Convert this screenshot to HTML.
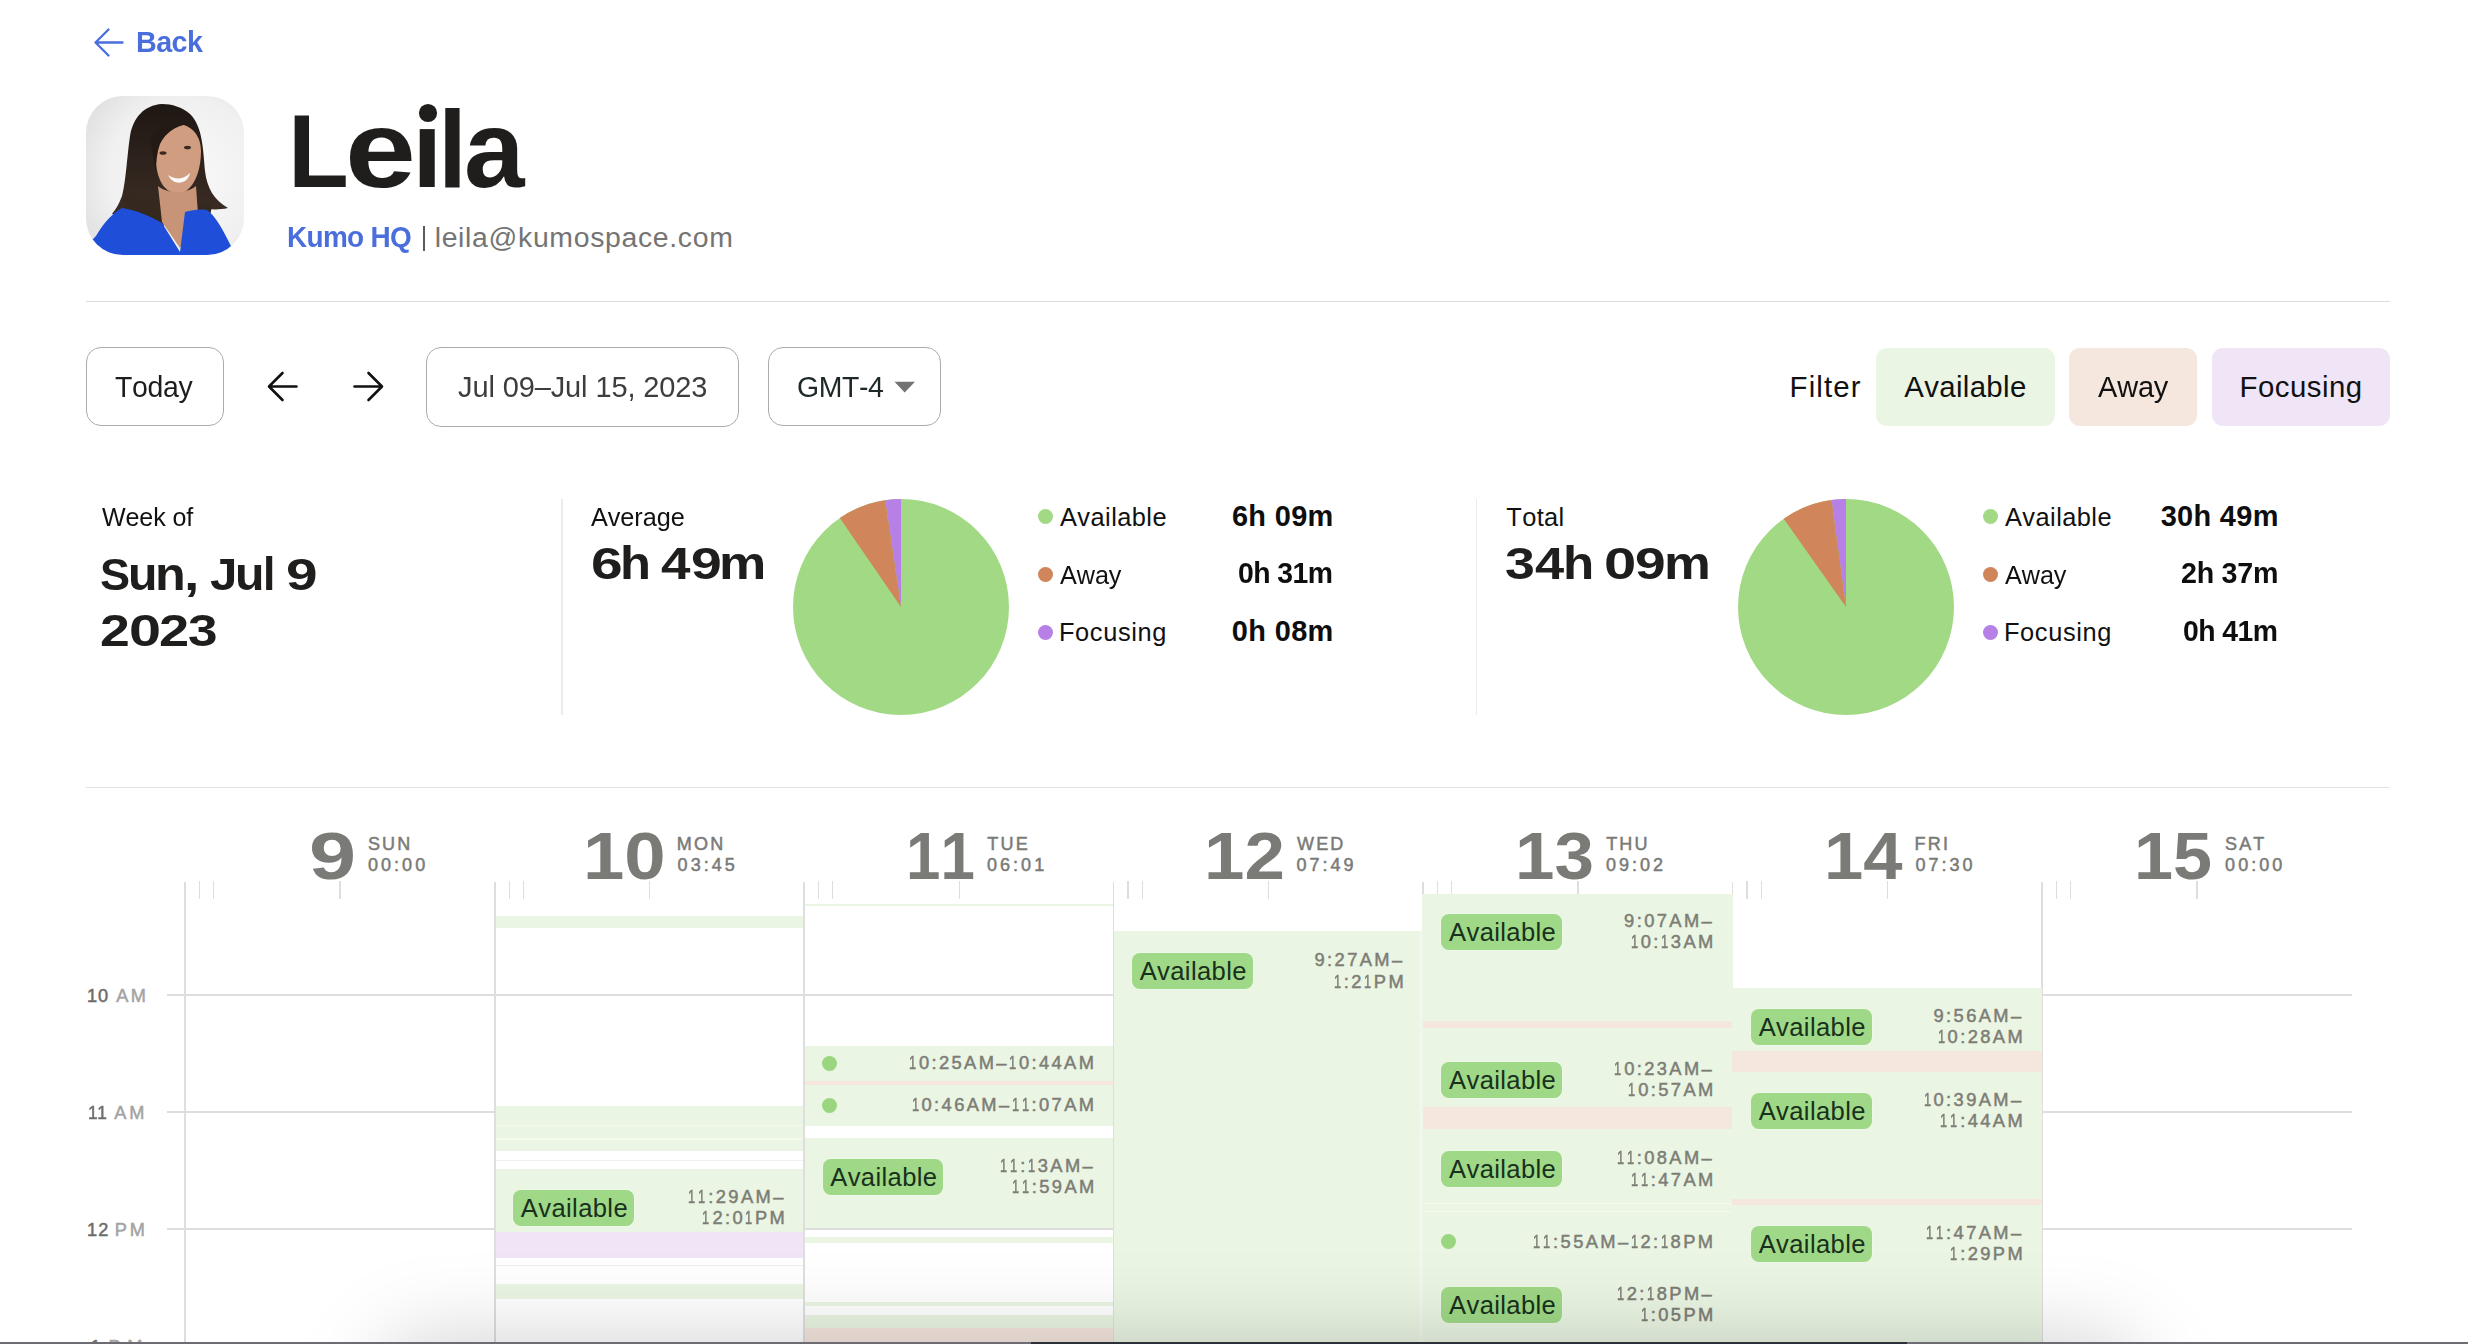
<!DOCTYPE html>
<html><head><meta charset="utf-8"><style>
html,body{margin:0;padding:0;background:#fff;}
body{width:2468px;height:1344px;position:relative;overflow:hidden;font-family:"Liberation Sans",sans-serif;font-kerning:none;}
.t{position:absolute;line-height:0;white-space:nowrap;}
.r{position:absolute;}
.one{display:inline-block;letter-spacing:0;transform:scaleX(0.70);transform-origin:0 0;}
</style></head><body>
<svg class="r" style="left:0;top:0" width="300" height="80"><path d="M122.5 42.5H96 M108.5 29.5L95.5 42.5L108.5 55.5" stroke="#4a6edb" stroke-width="2.35" fill="none" stroke-linecap="round" stroke-linejoin="round"/></svg>
<div class="t" style="left:136.08px;top:42.47px;font-size:30.09px;font-weight:700;color:#4a6edb;letter-spacing:-0.577px;transform:scaleX(0.9529);transform-origin:0 0;">Back</div>
<svg class="r" style="left:86px;top:96px" width="158" height="159" viewBox="0 0 158 159">
<defs><clipPath id="av"><rect x="0" y="0" width="158" height="159" rx="37" ry="37"/></clipPath>
<radialGradient id="bgav" cx="0.62" cy="0.5" r="0.75"><stop offset="0" stop-color="#f9f9f9"/><stop offset="0.65" stop-color="#f0f0f0"/><stop offset="1" stop-color="#dedede"/></radialGradient>
<linearGradient id="hair" x1="0" y1="0" x2="0" y2="1"><stop offset="0" stop-color="#1f1713"/><stop offset="1" stop-color="#3b2d25"/></linearGradient></defs>
<g clip-path="url(#av)">
<rect width="158" height="159" fill="url(#bgav)"/>
<path d="M76 8 C58 9 47 22 44 40 C41 60 40 85 36 100 C33 108 30 113 26 118 C40 121 55 119 66 115 L74 108 L108 108 C116 113 128 115 142 112 C128 104 121 92 119 75 C117 50 116 30 104 18 C96 11 86 8 76 8 Z" fill="url(#hair)"/>
<path d="M70 45 C72 34 82 27 92 28 C106 29 115 40 115 55 C115 72 110 88 100 95 C92 100 82 97 76 88 C70 78 68 60 70 45 Z" fill="#d09d80"/>
<path d="M64 44 C70 28 88 22 102 28 C90 30 80 36 74 48 C71 56 70 66 70 76 Z" fill="#241a15"/>
<ellipse cx="77" cy="57" rx="3.5" ry="1.8" fill="#3a2a22"/>
<ellipse cx="101.5" cy="51.5" rx="3.5" ry="1.8" fill="#3a2a22"/>
<path d="M82 79 C89 84 97 84 104 77 C102 88 88 91 82 79 Z" fill="#fbfbfb"/>
<path d="M40 100 L76 104 L78 132 L36 122 Z" fill="#35281f"/>
<path d="M104 102 L126 110 L124 120 L100 122 Z" fill="#35281f"/>
<path d="M72 90 C82 98 100 98 110 90 L112 118 L94 152 L76 126 Z" fill="#c79477"/>
<path d="M0 159 L0 152 C4 146 8 142 10 140 C18 126 28 116 36 112 C50 114 64 120 76 127 L94 156 L99 116 C106 114 114 113 121 114 C130 120 138 136 146 152 L148 159 Z" fill="#1f4fd8"/>
</g></svg>

<div class="t" style="left:288.14px;top:150.57px;font-size:104.22px;font-weight:700;color:#1f1e1d;transform:scale(0.9555,1.0000);transform-origin:0 36.13px;">L</div>
<div class="t" style="left:345.02px;top:148.94px;font-size:108.90px;font-weight:700;color:#1f1e1d;transform:scale(1.1713,1.0000);transform-origin:0 37.76px;">e</div>
<div class="t" style="left:412.26px;top:148.94px;font-size:108.90px;font-weight:700;color:#1f1e1d;transform:scale(1.0039,1.0000);transform-origin:0 37.76px;">ı</div>
<div class="r" style="left:418.6px;top:104.3px;width:18.6px;height:17.8px;border-radius:50%;background:#1f1e1d"></div>
<div class="t" style="left:438.12px;top:148.94px;font-size:108.90px;font-weight:700;color:#1f1e1d;transform:scale(0.9570,1.0000);transform-origin:0 37.76px;">l</div>
<div class="t" style="left:463.81px;top:148.94px;font-size:108.90px;font-weight:700;color:#1f1e1d;transform:scale(0.9989,1.0000);transform-origin:0 37.76px;">a</div>
<div class="t" style="left:287.43px;top:236.97px;font-size:29.80px;font-weight:700;color:#4a6edb;letter-spacing:-0.726px;transform:scaleX(0.9377);transform-origin:0 0;">Kumo HQ</div>
<div class="r" style="left:422.80px;top:225.50px;width:1.80px;height:25.50px;background:#5a5a5a;"></div>
<div class="t" style="left:434.69px;top:237.45px;font-size:28.40px;font-weight:400;color:#747474;letter-spacing:0.670px;">leila@kumospace.com</div>
<div class="r" style="left:86.00px;top:300.50px;width:2304.00px;height:1.50px;background:#dcdcdc;"></div>
<div class="r" style="left:86.00px;top:347.00px;width:138.00px;height:79.00px;background:#fff;border:1.6px solid #ababab;border-radius:15px;box-sizing:border-box;"></div>
<div class="t" style="left:115.36px;top:386.61px;font-size:29.40px;font-weight:400;color:#1d1d1d;letter-spacing:-0.349px;transform:scaleX(0.9674);transform-origin:0 0;">Today</div>
<svg class="r" style="left:0;top:340px" width="420" height="90"><path d="M296.5 46.5H269.5 M282.5 33L269 46.5L282.5 60" stroke="#111" stroke-width="2.6" fill="none" stroke-linecap="round" stroke-linejoin="round"/><path d="M354.5 46.5H381.5 M368.5 33L382 46.5L368.5 60" stroke="#111" stroke-width="2.6" fill="none" stroke-linecap="round" stroke-linejoin="round"/></svg>
<div class="r" style="left:426.00px;top:346.50px;width:313.00px;height:80.00px;background:#fff;border:1.6px solid #ababab;border-radius:15px;box-sizing:border-box;"></div>
<div class="t" style="left:457.75px;top:387.31px;font-size:29.40px;font-weight:400;color:#3d3d3d;letter-spacing:-0.106px;transform:scaleX(0.9859);transform-origin:0 0;">Jul 09–Jul 15, 2023</div>
<div class="r" style="left:768.00px;top:347.00px;width:173.00px;height:79.00px;background:#fff;border:1.6px solid #ababab;border-radius:15px;box-sizing:border-box;"></div>
<div class="t" style="left:796.57px;top:387.11px;font-size:29.40px;font-weight:400;color:#1e2828;letter-spacing:-0.387px;transform:scaleX(0.9672);transform-origin:0 0;">GMT-4</div>
<svg class="r" style="left:894px;top:381px" width="22" height="12"><path d="M0.5 0.8H21L10.7 11.5Z" fill="#737373"/></svg>
<div class="t" style="left:1789.59px;top:387.11px;font-size:29.40px;font-weight:400;color:#111;letter-spacing:1.114px;">Filter</div>
<div class="r" style="left:1875.50px;top:347.50px;width:179.00px;height:78.00px;background:#eaf5e3;border-radius:11px;"></div>
<div class="t" style="left:1904.24px;top:387.11px;font-size:29.40px;font-weight:400;color:#111;letter-spacing:0.344px;">Available</div>
<div class="r" style="left:2069.00px;top:347.50px;width:128.00px;height:78.00px;background:#f5e6de;border-radius:11px;"></div>
<div class="t" style="left:2097.74px;top:387.11px;font-size:29.40px;font-weight:400;color:#111;letter-spacing:-0.184px;transform:scaleX(0.9856);transform-origin:0 0;">Away</div>
<div class="r" style="left:2212.00px;top:347.50px;width:178.00px;height:78.00px;background:#efe5f7;border-radius:11px;"></div>
<div class="t" style="left:2239.59px;top:387.11px;font-size:29.40px;font-weight:400;color:#111;letter-spacing:0.473px;">Focusing</div>
<div class="t" style="left:101.69px;top:517.09px;font-size:25.40px;font-weight:400;color:#111;letter-spacing:-0.110px;transform:scaleX(0.9867);transform-origin:0 0;">Week of</div>
<div class="t" style="left:99.80px;top:574.53px;font-size:45.20px;font-weight:700;color:#1f1e1d;transform:scale(0.9970,1.0000);transform-origin:0 15.67px;">S</div>
<div class="t" style="left:127.91px;top:573.91px;font-size:47.00px;font-weight:700;color:#1f1e1d;transform:scale(1.0266,1.0000);transform-origin:0 16.29px;">u</div>
<div class="t" style="left:155.48px;top:573.91px;font-size:47.00px;font-weight:700;color:#1f1e1d;transform:scale(1.0706,1.0000);transform-origin:0 16.29px;">n</div>
<div class="t" style="left:184.45px;top:573.91px;font-size:47.00px;font-weight:700;color:#1f1e1d;transform:scale(1.1749,1.0000);transform-origin:0 16.29px;">,</div>
<div class="t" style="left:209.85px;top:574.53px;font-size:45.20px;font-weight:700;color:#1f1e1d;transform:scale(1.0906,1.0000);transform-origin:0 15.67px;">J</div>
<div class="t" style="left:235.11px;top:573.91px;font-size:47.00px;font-weight:700;color:#1f1e1d;transform:scale(1.0266,1.0000);transform-origin:0 16.29px;">u</div>
<div class="t" style="left:262.90px;top:573.91px;font-size:47.00px;font-weight:700;color:#1f1e1d;transform:scale(0.9459,1.0000);transform-origin:0 16.29px;">l</div>
<div class="t" style="left:285.93px;top:574.81px;font-size:44.40px;font-weight:700;color:#1f1e1d;transform:scale(1.2787,1.0000);transform-origin:0 15.39px;">9</div>
<div class="t" style="left:100.24px;top:631.41px;font-size:44.40px;font-weight:700;color:#1f1e1d;transform:scale(1.2070,1.0000);transform-origin:0 15.39px;">2</div>
<div class="t" style="left:128.82px;top:631.41px;font-size:44.40px;font-weight:700;color:#1f1e1d;transform:scale(1.2976,1.0000);transform-origin:0 15.39px;">0</div>
<div class="t" style="left:158.72px;top:631.41px;font-size:44.40px;font-weight:700;color:#1f1e1d;transform:scale(1.2210,1.0000);transform-origin:0 15.39px;">2</div>
<div class="t" style="left:188.08px;top:631.41px;font-size:44.40px;font-weight:700;color:#1f1e1d;transform:scale(1.1962,1.0000);transform-origin:0 15.39px;">3</div>
<div class="r" style="left:561.00px;top:499.00px;width:1.50px;height:216.00px;background:#ebebeb;"></div>
<div class="t" style="left:591.25px;top:517.09px;font-size:25.40px;font-weight:400;color:#111;letter-spacing:-0.048px;transform:scaleX(0.9942);transform-origin:0 0;">Average</div>
<div class="t" style="left:590.52px;top:563.81px;font-size:44.40px;font-weight:700;color:#1f1e1d;transform:scale(1.2813,1.0000);transform-origin:0 15.39px;">6</div>
<div class="t" style="left:620.26px;top:562.91px;font-size:47.00px;font-weight:700;color:#1f1e1d;transform:scale(1.0794,1.0000);transform-origin:0 16.29px;">h</div>
<div class="t" style="left:661.00px;top:563.81px;font-size:44.40px;font-weight:700;color:#1f1e1d;transform:scale(1.1941,1.0000);transform-origin:0 15.39px;">4</div>
<div class="t" style="left:690.68px;top:563.81px;font-size:44.40px;font-weight:700;color:#1f1e1d;transform:scale(1.2461,1.0000);transform-origin:0 15.39px;">9</div>
<div class="t" style="left:719.09px;top:562.91px;font-size:47.00px;font-weight:700;color:#1f1e1d;transform:scale(1.1320,1.0000);transform-origin:0 16.29px;">m</div>
<svg class="r" style="left:791px;top:497px" width="220" height="220" viewBox="791 497 220 220"><circle cx="901" cy="607" r="108" fill="#a2d984"/><path d="M901 607 L901.00 499.00 A108 108 0 0 0 885.22 500.16 Z" fill="#b680e7"/><path d="M901 607 L885.22 500.16 A108 108 0 0 0 839.83 517.99 Z" fill="#d0855a"/></svg>
<div class="r" style="left:1038px;top:509.30px;width:15px;height:15px;border-radius:50%;background:#a2d984"></div>
<div class="t" style="left:1059.95px;top:517.09px;font-size:25.40px;font-weight:400;color:#111;letter-spacing:0.450px;">Available</div>
<div class="t" style="left:1231.94px;top:515.87px;font-size:28.94px;font-weight:700;color:#0e0e0e;letter-spacing:0.324px;">6h 09m</div>
<div class="r" style="left:1038px;top:566.90px;width:15px;height:15px;border-radius:50%;background:#d0855a"></div>
<div class="t" style="left:1059.95px;top:574.69px;font-size:25.40px;font-weight:400;color:#111;letter-spacing:-0.071px;transform:scaleX(0.9936);transform-origin:0 0;">Away</div>
<div class="t" style="left:1238.28px;top:573.47px;font-size:28.94px;font-weight:700;color:#0e0e0e;letter-spacing:-0.563px;transform:scaleX(0.9800);transform-origin:0 0;">0h 31m</div>
<div class="r" style="left:1038px;top:624.50px;width:15px;height:15px;border-radius:50%;background:#b680e7"></div>
<div class="t" style="left:1058.92px;top:632.29px;font-size:25.40px;font-weight:400;color:#111;letter-spacing:0.651px;">Focusing</div>
<div class="t" style="left:1231.86px;top:631.07px;font-size:28.94px;font-weight:700;color:#0e0e0e;letter-spacing:0.341px;">0h 08m</div>
<div class="r" style="left:1475.50px;top:499.00px;width:1.50px;height:216.00px;background:#ebebeb;"></div>
<div class="t" style="left:1506.23px;top:517.09px;font-size:25.40px;font-weight:400;color:#111;letter-spacing:0.400px;">Total</div>
<div class="t" style="left:1505.47px;top:563.81px;font-size:44.40px;font-weight:700;color:#1f1e1d;transform:scale(1.2098,1.0000);transform-origin:0 15.39px;">3</div>
<div class="t" style="left:1534.81px;top:563.81px;font-size:44.40px;font-weight:700;color:#1f1e1d;transform:scale(1.1815,1.0000);transform-origin:0 15.39px;">4</div>
<div class="t" style="left:1562.83px;top:562.91px;font-size:47.00px;font-weight:700;color:#1f1e1d;transform:scale(1.0883,1.0000);transform-origin:0 16.29px;">h</div>
<div class="t" style="left:1603.80px;top:563.81px;font-size:44.40px;font-weight:700;color:#1f1e1d;transform:scale(1.3071,1.0000);transform-origin:0 15.39px;">0</div>
<div class="t" style="left:1635.39px;top:563.81px;font-size:44.40px;font-weight:700;color:#1f1e1d;transform:scale(1.2415,1.0000);transform-origin:0 15.39px;">9</div>
<div class="t" style="left:1664.13px;top:562.91px;font-size:47.00px;font-weight:700;color:#1f1e1d;transform:scale(1.1208,1.0000);transform-origin:0 16.29px;">m</div>
<svg class="r" style="left:1736px;top:497px" width="220" height="220" viewBox="1736 497 220 220"><circle cx="1846" cy="607" r="108" fill="#a2d984"/><path d="M1846 607 L1846.00 499.00 A108 108 0 0 0 1831.53 499.97 Z" fill="#b680e7"/><path d="M1846 607 L1831.53 499.97 A108 108 0 0 0 1783.75 518.75 Z" fill="#d0855a"/></svg>
<div class="r" style="left:1983px;top:509.30px;width:15px;height:15px;border-radius:50%;background:#a2d984"></div>
<div class="t" style="left:2004.95px;top:517.09px;font-size:25.40px;font-weight:400;color:#111;letter-spacing:0.450px;">Available</div>
<div class="t" style="left:2160.64px;top:515.87px;font-size:28.94px;font-weight:700;color:#0e0e0e;letter-spacing:0.321px;">30h 49m</div>
<div class="r" style="left:1983px;top:566.90px;width:15px;height:15px;border-radius:50%;background:#d0855a"></div>
<div class="t" style="left:2004.95px;top:574.69px;font-size:25.40px;font-weight:400;color:#111;letter-spacing:-0.071px;transform:scaleX(0.9936);transform-origin:0 0;">Away</div>
<div class="t" style="left:2181.01px;top:573.47px;font-size:28.94px;font-weight:700;color:#0e0e0e;letter-spacing:-0.280px;transform:scaleX(0.9902);transform-origin:0 0;">2h 37m</div>
<div class="r" style="left:1983px;top:624.50px;width:15px;height:15px;border-radius:50%;background:#b680e7"></div>
<div class="t" style="left:2003.92px;top:632.29px;font-size:25.40px;font-weight:400;color:#111;letter-spacing:0.651px;">Focusing</div>
<div class="t" style="left:2183.48px;top:631.07px;font-size:28.94px;font-weight:700;color:#0e0e0e;letter-spacing:-0.575px;transform:scaleX(0.9796);transform-origin:0 0;">0h 41m</div>
<div class="r" style="left:86.00px;top:786.50px;width:2304.00px;height:1.50px;background:#e2e2e2;"></div>
<div class="r" style="left:167.00px;top:994.25px;width:2185.00px;height:1.50px;background:#dedede;"></div>
<div class="r" style="left:167.00px;top:1111.25px;width:2185.00px;height:1.50px;background:#dedede;"></div>
<div class="r" style="left:167.00px;top:1228.25px;width:2185.00px;height:1.50px;background:#dedede;"></div>
<div class="t" style="left:86.92px;top:996.00px;font-size:18.17px;font-weight:400;-webkit-text-stroke:0.5px currentColor;color:#6c6c6c;letter-spacing:1.085px;">10</div>
<div class="t" style="left:116.26px;top:996.00px;font-size:18.17px;font-weight:400;-webkit-text-stroke:0.5px currentColor;color:#a3a3a3;letter-spacing:2.373px;">AM</div>
<div class="t" style="left:88.48px;top:1113.00px;font-size:18.17px;font-weight:400;-webkit-text-stroke:0.5px currentColor;color:#6c6c6c;letter-spacing:-0.433px;transform:scaleX(0.9540);transform-origin:0 0;">11</div>
<div class="t" style="left:114.16px;top:1113.00px;font-size:18.17px;font-weight:400;-webkit-text-stroke:0.5px currentColor;color:#a3a3a3;letter-spacing:2.973px;">AM</div>
<div class="t" style="left:86.92px;top:1230.00px;font-size:18.17px;font-weight:400;-webkit-text-stroke:0.5px currentColor;color:#6c6c6c;letter-spacing:1.289px;">12</div>
<div class="t" style="left:114.81px;top:1230.00px;font-size:18.17px;font-weight:400;-webkit-text-stroke:0.5px currentColor;color:#a3a3a3;letter-spacing:2.928px;">PM</div>
<div class="t" style="left:90.62px;top:1347.00px;font-size:18.17px;font-weight:400;-webkit-text-stroke:0.5px currentColor;color:#6c6c6c;letter-spacing:0.000px;">1</div>
<div class="t" style="left:108.51px;top:1347.00px;font-size:18.17px;font-weight:400;-webkit-text-stroke:0.5px currentColor;color:#a3a3a3;letter-spacing:6.728px;">PM</div>
<div class="t" style="left:309.07px;top:855.74px;font-size:67.09px;font-weight:700;color:#7a7a77;letter-spacing:0.000px;transform:scaleX(1.2617);transform-origin:0 0;">9</div>
<div class="t" style="left:367.88px;top:843.55px;font-size:18.02px;font-weight:400;-webkit-text-stroke:0.5px currentColor;color:#7a7a77;letter-spacing:2.168px">SUN</div>
<div class="t" style="left:368.00px;top:864.85px;font-size:18.02px;font-weight:400;-webkit-text-stroke:0.5px currentColor;color:#7a7a77;letter-spacing:3.026px">00:00</div>
<div class="r" style="left:198.70px;top:881.00px;width:1.40px;height:17.50px;background:#dedede;"></div>
<div class="r" style="left:212.90px;top:881.00px;width:1.40px;height:17.50px;background:#dedede;"></div>
<div class="r" style="left:339.30px;top:881.00px;width:1.40px;height:17.50px;background:#dedede;"></div>
<div class="t" style="left:583.31px;top:855.74px;font-size:67.09px;font-weight:700;color:#7a7a77;letter-spacing:0.000px;transform:scaleX(1.1087);transform-origin:0 0;">10</div>
<div class="t" style="left:676.82px;top:843.55px;font-size:18.02px;font-weight:400;-webkit-text-stroke:0.5px currentColor;color:#7a7a77;letter-spacing:2.168px">MON</div>
<div class="t" style="left:677.60px;top:864.85px;font-size:18.02px;font-weight:400;-webkit-text-stroke:0.5px currentColor;color:#7a7a77;letter-spacing:3.026px">03:45</div>
<div class="r" style="left:508.50px;top:881.00px;width:1.40px;height:17.50px;background:#dedede;"></div>
<div class="r" style="left:522.70px;top:881.00px;width:1.40px;height:17.50px;background:#dedede;"></div>
<div class="r" style="left:649.10px;top:881.00px;width:1.40px;height:17.50px;background:#dedede;"></div>
<div class="t" style="left:906.10px;top:855.74px;font-size:67.09px;font-weight:700;color:#7a7a77;letter-spacing:0.000px;transform:scaleX(0.9222);transform-origin:0 0;">11</div>
<div class="t" style="left:987.30px;top:843.55px;font-size:18.02px;font-weight:400;-webkit-text-stroke:0.5px currentColor;color:#7a7a77;letter-spacing:2.168px">TUE</div>
<div class="t" style="left:987.00px;top:864.85px;font-size:18.02px;font-weight:400;-webkit-text-stroke:0.5px currentColor;color:#7a7a77;letter-spacing:3.026px">06:01</div>
<div class="r" style="left:817.90px;top:881.00px;width:1.40px;height:17.50px;background:#dedede;"></div>
<div class="r" style="left:832.10px;top:881.00px;width:1.40px;height:17.50px;background:#dedede;"></div>
<div class="r" style="left:958.50px;top:881.00px;width:1.40px;height:17.50px;background:#dedede;"></div>
<div class="t" style="left:1204.42px;top:855.74px;font-size:67.09px;font-weight:700;color:#7a7a77;letter-spacing:0.000px;transform:scaleX(1.0840);transform-origin:0 0;">12</div>
<div class="t" style="left:1297.02px;top:843.55px;font-size:18.02px;font-weight:400;-webkit-text-stroke:0.5px currentColor;color:#7a7a77;letter-spacing:2.168px">WED</div>
<div class="t" style="left:1296.40px;top:864.85px;font-size:18.02px;font-weight:400;-webkit-text-stroke:0.5px currentColor;color:#7a7a77;letter-spacing:3.026px">07:49</div>
<div class="r" style="left:1127.30px;top:881.00px;width:1.40px;height:17.50px;background:#dedede;"></div>
<div class="r" style="left:1141.50px;top:881.00px;width:1.40px;height:17.50px;background:#dedede;"></div>
<div class="r" style="left:1267.90px;top:881.00px;width:1.40px;height:17.50px;background:#dedede;"></div>
<div class="t" style="left:1514.83px;top:855.74px;font-size:67.09px;font-weight:700;color:#7a7a77;letter-spacing:0.000px;transform:scaleX(1.0577);transform-origin:0 0;">13</div>
<div class="t" style="left:1606.20px;top:843.55px;font-size:18.02px;font-weight:400;-webkit-text-stroke:0.5px currentColor;color:#7a7a77;letter-spacing:2.168px">THU</div>
<div class="t" style="left:1605.90px;top:864.85px;font-size:18.02px;font-weight:400;-webkit-text-stroke:0.5px currentColor;color:#7a7a77;letter-spacing:3.026px">09:02</div>
<div class="r" style="left:1436.70px;top:881.00px;width:1.40px;height:17.50px;background:#dedede;"></div>
<div class="r" style="left:1450.90px;top:881.00px;width:1.40px;height:17.50px;background:#dedede;"></div>
<div class="r" style="left:1577.30px;top:881.00px;width:1.40px;height:17.50px;background:#dedede;"></div>
<div class="t" style="left:1824.35px;top:855.74px;font-size:67.09px;font-weight:700;color:#7a7a77;letter-spacing:0.000px;transform:scaleX(1.0523);transform-origin:0 0;">14</div>
<div class="t" style="left:1914.62px;top:843.55px;font-size:18.02px;font-weight:400;-webkit-text-stroke:0.5px currentColor;color:#7a7a77;letter-spacing:2.168px">FRI</div>
<div class="t" style="left:1915.40px;top:864.85px;font-size:18.02px;font-weight:400;-webkit-text-stroke:0.5px currentColor;color:#7a7a77;letter-spacing:3.026px">07:30</div>
<div class="r" style="left:1746.30px;top:881.00px;width:1.40px;height:17.50px;background:#dedede;"></div>
<div class="r" style="left:1760.50px;top:881.00px;width:1.40px;height:17.50px;background:#dedede;"></div>
<div class="r" style="left:1886.90px;top:881.00px;width:1.40px;height:17.50px;background:#dedede;"></div>
<div class="t" style="left:2134.08px;top:855.74px;font-size:67.09px;font-weight:700;color:#7a7a77;letter-spacing:0.000px;transform:scaleX(1.0462);transform-origin:0 0;">15</div>
<div class="t" style="left:2224.98px;top:843.55px;font-size:18.02px;font-weight:400;-webkit-text-stroke:0.5px currentColor;color:#7a7a77;letter-spacing:2.168px">SAT</div>
<div class="t" style="left:2225.10px;top:864.85px;font-size:18.02px;font-weight:400;-webkit-text-stroke:0.5px currentColor;color:#7a7a77;letter-spacing:3.026px">00:00</div>
<div class="r" style="left:2055.70px;top:881.00px;width:1.40px;height:17.50px;background:#dedede;"></div>
<div class="r" style="left:2069.90px;top:881.00px;width:1.40px;height:17.50px;background:#dedede;"></div>
<div class="r" style="left:2196.30px;top:881.00px;width:1.40px;height:17.50px;background:#dedede;"></div>
<div class="r" style="left:184.25px;top:881.50px;width:1.50px;height:462.50px;background:#dedede;"></div>
<div class="r" style="left:494.05px;top:881.50px;width:1.50px;height:462.50px;background:#dedede;"></div>
<div class="r" style="left:803.45px;top:881.50px;width:1.50px;height:462.50px;background:#dedede;"></div>
<div class="r" style="left:1112.85px;top:881.50px;width:1.50px;height:462.50px;background:#dedede;"></div>
<div class="r" style="left:1422.25px;top:881.50px;width:1.50px;height:462.50px;background:#dedede;"></div>
<div class="r" style="left:1731.85px;top:881.50px;width:1.50px;height:462.50px;background:#dedede;"></div>
<div class="r" style="left:2041.25px;top:881.50px;width:1.50px;height:462.50px;background:#dedede;"></div>
<div class="r" style="left:496.00px;top:916.00px;width:307.00px;height:12.00px;background:#eaf5e3;"></div>
<div class="r" style="left:496.00px;top:1106.00px;width:307.00px;height:45.00px;background:#eaf5e3;"></div>
<div class="r" style="left:496.00px;top:1169.00px;width:307.00px;height:63.00px;background:#eaf5e3;"></div>
<div class="r" style="left:496.00px;top:1232.00px;width:307.00px;height:26.00px;background:#efe5f6;"></div>
<div class="r" style="left:496.00px;top:1284.00px;width:307.00px;height:15.00px;background:#eaf5e3;"></div>
<div class="r" style="left:805.00px;top:904.00px;width:308.00px;height:2.00px;background:#eaf5e3;"></div>
<div class="r" style="left:805.00px;top:1046.00px;width:308.00px;height:35.00px;background:#eaf5e3;"></div>
<div class="r" style="left:805.00px;top:1081.00px;width:308.00px;height:4.00px;background:#f5e6de;"></div>
<div class="r" style="left:805.00px;top:1085.00px;width:308.00px;height:41.00px;background:#eaf5e3;"></div>
<div class="r" style="left:805.00px;top:1138.00px;width:308.00px;height:90.00px;background:#eaf5e3;"></div>
<div class="r" style="left:805.00px;top:1237.00px;width:308.00px;height:6.00px;background:#eaf5e3;"></div>
<div class="r" style="left:805.00px;top:1302.00px;width:308.00px;height:4.00px;background:#eaf5e3;"></div>
<div class="r" style="left:805.00px;top:1315.00px;width:308.00px;height:13.00px;background:#eaf5e3;"></div>
<div class="r" style="left:805.00px;top:1328.00px;width:308.00px;height:16.00px;background:#f5e6de;"></div>
<div class="r" style="left:1114.00px;top:931.00px;width:309.00px;height:413.00px;background:#eaf5e3;"></div>
<div class="r" style="left:1422.00px;top:894.00px;width:311.00px;height:127.00px;background:#eaf5e3;"></div>
<div class="r" style="left:1422.00px;top:1021.00px;width:311.00px;height:7.00px;background:#f5e6de;"></div>
<div class="r" style="left:1422.00px;top:1028.00px;width:311.00px;height:79.00px;background:#eaf5e3;"></div>
<div class="r" style="left:1422.00px;top:1107.00px;width:311.00px;height:22.00px;background:#f5e6de;"></div>
<div class="r" style="left:1422.00px;top:1129.00px;width:311.00px;height:215.00px;background:#eaf5e3;"></div>
<div class="r" style="left:1732.00px;top:988.00px;width:310.00px;height:63.00px;background:#eaf5e3;"></div>
<div class="r" style="left:1732.00px;top:1051.00px;width:310.00px;height:21.00px;background:#f5e6de;"></div>
<div class="r" style="left:1732.00px;top:1072.00px;width:310.00px;height:127.00px;background:#eaf5e3;"></div>
<div class="r" style="left:1732.00px;top:1199.00px;width:310.00px;height:6.00px;background:#f5e6de;"></div>
<div class="r" style="left:1732.00px;top:1205.00px;width:310.00px;height:139.00px;background:#eaf5e3;"></div>
<div class="r" style="left:513.10px;top:1190.10px;width:120.90px;height:35.90px;background:#9fd886;border-radius:8px;box-shadow:0 0 0 1px rgba(248,255,244,0.3);"></div>
<div class="t" style="left:520.85px;top:1207.93px;font-size:25.58px;font-weight:400;color:#18301c;letter-spacing:0.372px;">Available</div>
<div class="t" style="left:688.31px;top:1196.65px;font-size:18.31px;font-weight:400;-webkit-text-stroke:0.5px currentColor;color:#7d7d76;letter-spacing:2.397px;"><span class="one" style="width:10.00px">1</span><span class="one" style="width:10.00px">1</span>:29AM–</div>
<div class="t" style="left:702.39px;top:1218.35px;font-size:18.31px;font-weight:400;-webkit-text-stroke:0.5px currentColor;color:#7d7d76;letter-spacing:2.397px;"><span class="one" style="width:10.00px">1</span>2:0<span class="one" style="width:10.00px">1</span>PM</div>
<div class="r" style="left:822.50px;top:1159.10px;width:120.90px;height:35.90px;background:#9fd886;border-radius:8px;box-shadow:0 0 0 1px rgba(248,255,244,0.3);"></div>
<div class="t" style="left:830.25px;top:1176.93px;font-size:25.58px;font-weight:400;color:#18301c;letter-spacing:0.372px;">Available</div>
<div class="t" style="left:1000.30px;top:1165.65px;font-size:18.31px;font-weight:400;-webkit-text-stroke:0.5px currentColor;color:#7d7d76;letter-spacing:2.397px;"><span class="one" style="width:10.00px">1</span><span class="one" style="width:10.00px">1</span>:<span class="one" style="width:10.00px">1</span>3AM–</div>
<div class="t" style="left:1011.79px;top:1187.35px;font-size:18.31px;font-weight:400;-webkit-text-stroke:0.5px currentColor;color:#7d7d76;letter-spacing:2.397px;"><span class="one" style="width:10.00px">1</span><span class="one" style="width:10.00px">1</span>:59AM</div>
<div class="r" style="left:1131.90px;top:953.30px;width:120.90px;height:35.90px;background:#9fd886;border-radius:8px;box-shadow:0 0 0 1px rgba(248,255,244,0.3);"></div>
<div class="t" style="left:1139.65px;top:971.13px;font-size:25.58px;font-weight:400;color:#18301c;letter-spacing:0.372px;">Available</div>
<div class="t" style="left:1314.52px;top:959.85px;font-size:18.31px;font-weight:400;-webkit-text-stroke:0.5px currentColor;color:#7d7d76;letter-spacing:2.397px;">9:27AM–</div>
<div class="t" style="left:1333.77px;top:981.55px;font-size:18.31px;font-weight:400;-webkit-text-stroke:0.5px currentColor;color:#7d7d76;letter-spacing:2.397px;"><span class="one" style="width:10.00px">1</span>:2<span class="one" style="width:10.00px">1</span>PM</div>
<div class="r" style="left:1441.30px;top:914.10px;width:120.90px;height:35.90px;background:#9fd886;border-radius:8px;box-shadow:0 0 0 1px rgba(248,255,244,0.3);"></div>
<div class="t" style="left:1449.05px;top:931.93px;font-size:25.58px;font-weight:400;color:#18301c;letter-spacing:0.372px;">Available</div>
<div class="t" style="left:1624.12px;top:920.65px;font-size:18.31px;font-weight:400;-webkit-text-stroke:0.5px currentColor;color:#7d7d76;letter-spacing:2.397px;">9:07AM–</div>
<div class="t" style="left:1630.79px;top:942.35px;font-size:18.31px;font-weight:400;-webkit-text-stroke:0.5px currentColor;color:#7d7d76;letter-spacing:2.397px;"><span class="one" style="width:10.00px">1</span>0:<span class="one" style="width:10.00px">1</span>3AM</div>
<div class="r" style="left:1441.30px;top:1062.20px;width:120.90px;height:35.90px;background:#9fd886;border-radius:8px;box-shadow:0 0 0 1px rgba(248,255,244,0.3);"></div>
<div class="t" style="left:1449.05px;top:1080.03px;font-size:25.58px;font-weight:400;color:#18301c;letter-spacing:0.372px;">Available</div>
<div class="t" style="left:1614.13px;top:1068.75px;font-size:18.31px;font-weight:400;-webkit-text-stroke:0.5px currentColor;color:#7d7d76;letter-spacing:2.397px;"><span class="one" style="width:10.00px">1</span>0:23AM–</div>
<div class="t" style="left:1628.20px;top:1090.45px;font-size:18.31px;font-weight:400;-webkit-text-stroke:0.5px currentColor;color:#7d7d76;letter-spacing:2.397px;"><span class="one" style="width:10.00px">1</span>0:57AM</div>
<div class="r" style="left:1441.30px;top:1151.40px;width:120.90px;height:35.90px;background:#9fd886;border-radius:8px;box-shadow:0 0 0 1px rgba(248,255,244,0.3);"></div>
<div class="t" style="left:1449.05px;top:1169.23px;font-size:25.58px;font-weight:400;color:#18301c;letter-spacing:0.372px;">Available</div>
<div class="t" style="left:1616.71px;top:1157.95px;font-size:18.31px;font-weight:400;-webkit-text-stroke:0.5px currentColor;color:#7d7d76;letter-spacing:2.397px;"><span class="one" style="width:10.00px">1</span><span class="one" style="width:10.00px">1</span>:08AM–</div>
<div class="t" style="left:1630.79px;top:1179.65px;font-size:18.31px;font-weight:400;-webkit-text-stroke:0.5px currentColor;color:#7d7d76;letter-spacing:2.397px;"><span class="one" style="width:10.00px">1</span><span class="one" style="width:10.00px">1</span>:47AM</div>
<div class="r" style="left:1441.30px;top:1287.00px;width:120.90px;height:35.90px;background:#9fd886;border-radius:8px;box-shadow:0 0 0 1px rgba(248,255,244,0.3);"></div>
<div class="t" style="left:1449.05px;top:1304.83px;font-size:25.58px;font-weight:400;color:#18301c;letter-spacing:0.372px;">Available</div>
<div class="t" style="left:1616.71px;top:1293.55px;font-size:18.31px;font-weight:400;-webkit-text-stroke:0.5px currentColor;color:#7d7d76;letter-spacing:2.397px;"><span class="one" style="width:10.00px">1</span>2:<span class="one" style="width:10.00px">1</span>8PM–</div>
<div class="t" style="left:1640.79px;top:1315.25px;font-size:18.31px;font-weight:400;-webkit-text-stroke:0.5px currentColor;color:#7d7d76;letter-spacing:2.397px;"><span class="one" style="width:10.00px">1</span>:05PM</div>
<div class="r" style="left:1750.90px;top:1009.20px;width:120.90px;height:35.90px;background:#9fd886;border-radius:8px;box-shadow:0 0 0 1px rgba(248,255,244,0.3);"></div>
<div class="t" style="left:1758.65px;top:1027.03px;font-size:25.58px;font-weight:400;color:#18301c;letter-spacing:0.372px;">Available</div>
<div class="t" style="left:1933.52px;top:1015.75px;font-size:18.31px;font-weight:400;-webkit-text-stroke:0.5px currentColor;color:#7d7d76;letter-spacing:2.397px;">9:56AM–</div>
<div class="t" style="left:1937.60px;top:1037.45px;font-size:18.31px;font-weight:400;-webkit-text-stroke:0.5px currentColor;color:#7d7d76;letter-spacing:2.397px;"><span class="one" style="width:10.00px">1</span>0:28AM</div>
<div class="r" style="left:1750.90px;top:1093.20px;width:120.90px;height:35.90px;background:#9fd886;border-radius:8px;box-shadow:0 0 0 1px rgba(248,255,244,0.3);"></div>
<div class="t" style="left:1758.65px;top:1111.03px;font-size:25.58px;font-weight:400;color:#18301c;letter-spacing:0.372px;">Available</div>
<div class="t" style="left:1923.53px;top:1099.75px;font-size:18.31px;font-weight:400;-webkit-text-stroke:0.5px currentColor;color:#7d7d76;letter-spacing:2.397px;"><span class="one" style="width:10.00px">1</span>0:39AM–</div>
<div class="t" style="left:1940.19px;top:1121.45px;font-size:18.31px;font-weight:400;-webkit-text-stroke:0.5px currentColor;color:#7d7d76;letter-spacing:2.397px;"><span class="one" style="width:10.00px">1</span><span class="one" style="width:10.00px">1</span>:44AM</div>
<div class="r" style="left:1750.90px;top:1226.00px;width:120.90px;height:35.90px;background:#9fd886;border-radius:8px;box-shadow:0 0 0 1px rgba(248,255,244,0.3);"></div>
<div class="t" style="left:1758.65px;top:1243.83px;font-size:25.58px;font-weight:400;color:#18301c;letter-spacing:0.372px;">Available</div>
<div class="t" style="left:1926.11px;top:1232.55px;font-size:18.31px;font-weight:400;-webkit-text-stroke:0.5px currentColor;color:#7d7d76;letter-spacing:2.397px;"><span class="one" style="width:10.00px">1</span><span class="one" style="width:10.00px">1</span>:47AM–</div>
<div class="t" style="left:1950.19px;top:1254.25px;font-size:18.31px;font-weight:400;-webkit-text-stroke:0.5px currentColor;color:#7d7d76;letter-spacing:2.397px;"><span class="one" style="width:10.00px">1</span>:29PM</div>
<div class="r" style="left:1418.50px;top:931.00px;width:4.00px;height:413.00px;background:#eef7e9;"></div>
<div class="r" style="left:496.00px;top:1125.00px;width:307.00px;height:1.00px;background:#f3f9ef;"></div>
<div class="r" style="left:496.00px;top:1138.00px;width:307.00px;height:2.00px;background:#f3f9ef;"></div>
<div class="r" style="left:496.00px;top:1160.00px;width:307.00px;height:1.00px;background:#eef1ec;"></div>
<div class="r" style="left:496.00px;top:1265.00px;width:307.00px;height:1.00px;background:#eef0ec;"></div>
<div class="r" style="left:1424.00px;top:1203.00px;width:308.00px;height:1.00px;background:#f3f9ef;"></div>
<div class="r" style="left:1424.00px;top:1211.00px;width:308.00px;height:1.00px;background:#f3f9ef;"></div>
<div class="r" style="left:822.2px;top:1056.00px;width:15px;height:15px;border-radius:50%;background:#9ad57f"></div>
<div class="t" style="left:908.92px;top:1063.35px;font-size:18.31px;font-weight:400;-webkit-text-stroke:0.5px currentColor;color:#7d7d76;letter-spacing:2.397px;"><span class="one" style="width:10.00px">1</span>0:25AM–<span class="one" style="width:10.00px">1</span>0:44AM</div>
<div class="r" style="left:822.2px;top:1098.00px;width:15px;height:15px;border-radius:50%;background:#9ad57f"></div>
<div class="t" style="left:911.51px;top:1105.35px;font-size:18.31px;font-weight:400;-webkit-text-stroke:0.5px currentColor;color:#7d7d76;letter-spacing:2.397px;"><span class="one" style="width:10.00px">1</span>0:46AM–<span class="one" style="width:10.00px">1</span><span class="one" style="width:10.00px">1</span>:07AM</div>
<div class="r" style="left:1441px;top:1234.17px;width:15px;height:15px;border-radius:50%;background:#9ad57f"></div>
<div class="t" style="left:1533.09px;top:1241.53px;font-size:18.31px;font-weight:400;-webkit-text-stroke:0.5px currentColor;color:#7d7d76;letter-spacing:2.397px;"><span class="one" style="width:10.00px">1</span><span class="one" style="width:10.00px">1</span>:55AM–<span class="one" style="width:10.00px">1</span>2:<span class="one" style="width:10.00px">1</span>8PM</div>
<div class="r" style="left:375px;top:1334px;width:1770px;height:120px;border-radius:60px;background:rgba(0,0,0,0.16);filter:blur(40px);"></div>
<div class="r" style="left:0.00px;top:1341.50px;width:2468.00px;height:2.50px;background:#6c6c72;"></div>
<div class="r" style="left:1031.00px;top:1341.50px;width:876.00px;height:2.50px;background:#2c303b;"></div>
</body></html>
